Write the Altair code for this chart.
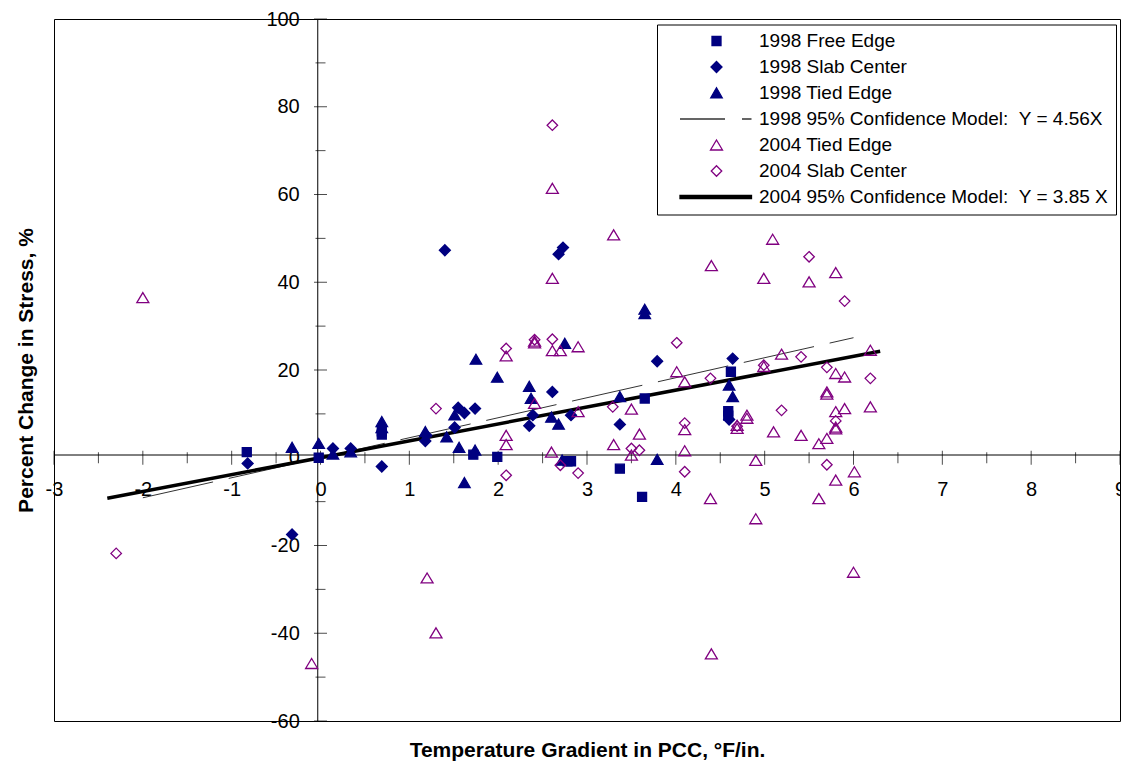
import altair as alt
import pandas as pd

FONT = "Liberation Sans, Arial, sans-serif"

series_names = [
    "1998 Free Edge",
    "1998 Slab Center",
    "1998 Tied Edge",
    "1998 95% Confidence Model:  Y = 4.56X",
    "2004 Tied Edge",
    "2004 Slab Center",
    "2004 95% Confidence Model:  Y = 3.85 X",
]

# 1998 Free Edge (filled squares)
free98_x = [-0.83, -0.02, 0.69, 0.69, 1.72, 1.99, 2.78, 2.82, 3.37, 3.62, 3.65, 4.59, 4.59, 4.62]
free98_y = [1.3, 0.0, 5.3, 6.0, 0.7, 0.2, -0.8, -0.8, -2.5, -8.9, 13.5, 10.6, 9.6, 19.6]

# 1998 Slab Center (filled diamonds)
slab98_x = [-0.82, -0.32, 0.14, 0.34, 0.69, 1.18, 1.19, 1.40, 1.51, 1.55, 1.62, 1.74, 2.35, 2.39,
            2.61, 2.68, 2.73, 2.82, 3.37, 3.79, 4.60, 4.64]
slab98_y = [-1.3, -17.5, 2.1, 2.1, -2.0, 3.8, 5.1, 47.3, 6.9, 11.4, 10.2, 11.2, 7.3, 9.7,
            15.0, 46.4, 47.9, 9.7, 7.6, 22.0, 8.7, 22.6]

# 1998 Tied Edge (filled triangles)
tied98_x = [-0.32, -0.02, 0.14, 0.34, 0.69, 0.69, 1.18, 1.42, 1.51, 1.56, 1.62, 1.74, 1.75, 1.99,
            2.35, 2.37, 2.60, 2.68, 2.72, 2.75, 3.37, 3.65, 3.65, 3.79, 4.60, 4.64]
tied98_y = [2.3, 3.2, 0.8, 1.3, 8.2, 6.8, 5.9, 4.7, 9.7, 2.3, -5.7, 1.7, 22.4, 18.3,
            16.2, 13.5, 9.2, 7.6, -0.6, 26.0, 13.9, 33.8, 32.8, -0.4, 16.5, 13.9]

# 2004 Tied Edge (hollow triangles)
tied04_x = [-2.00, -0.10, 1.20, 1.30, 2.09, 2.09, 2.09, 2.41, 2.41, 2.41, 2.61, 2.61, 2.61, 2.60,
            2.70, 2.90, 2.90, 3.30, 3.30, 3.50, 3.59, 3.50, 4.01, 4.10, 4.10, 4.10, 4.40, 4.39,
            4.40, 4.69, 4.69, 4.80, 4.80, 4.90, 4.90, 4.99, 4.99, 5.09, 5.19, 5.10, 5.41, 5.50,
            5.61, 5.61, 5.70, 5.70, 5.70, 5.80, 5.80, 5.80, 5.80, 5.80, 5.80, 5.90, 5.90, 6.01,
            6.00, 6.19, 6.19]
tied04_y = [36.5, -46.9, -27.4, -39.9, 23.2, 5.1, 3.0, 12.4, 26.2, 26.6, 24.4, 61.4, 40.9, 1.3,
            24.4, 25.3, 10.5, 50.8, 3.0, 11.1, 5.4, 0.6, 19.6, 17.3, 6.4, 1.6, 43.8, -9.3,
            -44.7, 7.4, 6.7, 9.7, 9.0, -0.6, -13.9, 20.8, 40.9, 49.8, 23.6, 5.9, 5.1, 40.1,
            3.2, -9.3, 15.0, 14.5, 4.4, 42.2, 19.2, 10.5, 7.0, 6.6, -5.1, 18.4, 11.2, -3.2,
            -26.1, 24.5, 11.6]

# 2004 Slab Center (hollow diamonds)
slab04_x = [-2.30, 1.30, 2.09, 2.09, 2.41, 2.61, 2.61, 2.70, 2.90, 3.29, 3.50, 3.59, 4.01, 4.10,
            4.10, 4.39, 4.69, 4.99, 5.19, 5.41, 5.50, 5.70, 5.70, 5.80, 5.90, 6.19]
slab04_y = [-21.8, 11.2, 24.9, -4.0, 26.9, 27.0, 75.8, -1.7, -3.5, 11.6, 2.1, 1.7, 26.2, 7.9,
            -3.2, 18.1, 7.2, 21.1, 10.8, 23.0, 45.8, 20.6, -1.6, 8.4, 35.7, 18.1]

# Confidence model lines (end points)
model98_x = [-2.0, 6.0]
model98_y = [-9.12, 27.36]
model04_x = [-2.4, 6.3]
model04_y = [-9.24, 24.26]

# Axis tick values
x_major = [-3, -2, -1, 0, 1, 2, 3, 4, 5, 6, 7, 8, 9]
x_minor = [-2.5, -1.5, -0.5, 0.5, 1.5, 2.5, 3.5, 4.5, 5.5, 6.5, 7.5, 8.5]
y_major = [-60, -40, -20, 0, 20, 40, 60, 80, 100]
y_minor = [-50, -30, -10, 10, 30, 50, 70, 90]

# ---- build tables ----
rows = []
for name, xs, ys in [
    (series_names[0], free98_x, free98_y),
    (series_names[1], slab98_x, slab98_y),
    (series_names[2], tied98_x, tied98_y),
    (series_names[4], tied04_x, tied04_y),
    (series_names[5], slab04_x, slab04_y),
]:
    for a, b in zip(xs, ys):
        rows.append({"x": a, "y": b, "series": name})
pts = pd.DataFrame(rows)

m98 = pd.DataFrame({"x": model98_x, "y": model98_y})
m04 = pd.DataFrame({"x": model04_x, "y": model04_y})

W, H = 1066, 702
XMIN, XMAX, YMIN, YMAX = -3, 9, -60, 100
x_off = -(0 - XMIN) / (XMAX - XMIN) * W
y_off = -(0 - YMIN) / (YMAX - YMIN) * H

minus_expr = "datum.value < 0 ? '-' + format(-datum.value, 'd') : format(datum.value, 'd')"

x_axis = alt.Axis(
    orient="bottom", offset=x_off, values=x_major, labelExpr=minus_expr,
    ticks=False, tickSize=0, grid=False, domainColor="black", domainWidth=1,
    labelFont=FONT, labelFontSize=20, labelColor="black", labelPadding=25,
    labelFlush=False, labelOverlap=False, labelBound=False,
    title="Temperature Gradient in PCC, °F/in.", titleFont=FONT, titleFontSize=21,
    titleFontWeight="bold", titleColor="black", titleBaseline="alphabetic",
    titleX=W / 2, titleY=302,
)
y_axis = alt.Axis(
    orient="left", offset=y_off, values=y_major, labelExpr=minus_expr,
    ticks=False, tickSize=0, grid=False, domainColor="black", domainWidth=1,
    labelFont=FONT, labelFontSize=20, labelColor="black", labelPadding=18,
    labelFlush=False, labelOverlap=False, labelBound=False,
    title="Percent Change in Stress, %", titleFont=FONT, titleFontSize=21,
    titleFontWeight="bold", titleColor="black", titleBaseline="alphabetic",
    titleAngle=270, titleX=-285, titleY=H / 2,
)

xsc = alt.Scale(domain=[XMIN, XMAX], nice=False, zero=False)
ysc = alt.Scale(domain=[YMIN, YMAX], nice=False, zero=False)


def X(f):
    return alt.X(f, type="quantitative", scale=xsc, axis=x_axis)


def Y(f):
    return alt.Y(f, type="quantitative", scale=ysc, axis=y_axis)


SQUARE = "M-0.9,-0.9H0.9V0.9H-0.9Z"
DIAMOND_F = "M0,-1.1L1.1,0L0,1.1L-1.1,0Z"
TRI_F = "M0,-1.05L1.15,0.95L-1.15,0.95Z"
LINE_DASH = "M-7.3,0H1.7M5.1,0H7"
TRI_H = "M0,-1.0L1.2,1.0L-1.2,1.0Z"
DIAMOND_H = "M0,-1.05L1.05,0L0,1.05L-1.05,0Z"
LINE_THICK = "M-7.3,-0.3H7V0.3H-7.3Z"

NAVY, PURPLE = "#000080", "#800080"

legend = alt.Legend(
    title=None, orient="none", legendX=603, legendY=5.5, padding=7, rowPadding=6.0,
    strokeColor="black", fillColor="white", labelFont=FONT, labelFontSize=19,
    labelColor="black", symbolOffset=43, labelOffset=33, symbolStrokeWidth=1.3,
    symbolSize=100, labelLimit=1000,
    labelExpr="replace(datum.label, '  ', ' \u00a0') + '\u00a0\u00a0'",
)

points = alt.Chart(pts).mark_point(size=100, strokeWidth=1.3, opacity=1).encode(
    x=X("x"), y=Y("y"),
    shape=alt.Shape("series:N", scale=alt.Scale(domain=series_names,
                    range=[SQUARE, DIAMOND_F, TRI_F, LINE_DASH, TRI_H, DIAMOND_H, LINE_THICK]),
                    legend=legend),
    fill=alt.Fill("series:N", scale=alt.Scale(domain=series_names,
                  range=[NAVY, NAVY, NAVY, "transparent", "transparent", "transparent", "#000000"]),
                  legend=legend),
    stroke=alt.Stroke("series:N", scale=alt.Scale(domain=series_names,
                      range=[NAVY, NAVY, NAVY, "#333333", PURPLE, PURPLE, "#000000"]),
                      legend=legend),
)

line98 = alt.Chart(m98).mark_line(color="#333333", strokeWidth=1, strokeDash=[72, 16]).encode(
    x=X("x"), y=Y("y"))
line04 = alt.Chart(m04).mark_line(color="black", strokeWidth=3.5).encode(
    x=X("x"), y=Y("y"))

xt = pd.DataFrame({"v": x_major + x_minor, "k": ["major"] * len(x_major) + ["minor"] * len(x_minor)})
yt = pd.DataFrame({"v": y_major + y_minor, "k": ["major"] * len(y_major) + ["minor"] * len(y_minor)})

xticks_major = alt.Chart(xt[xt.k == "major"]).mark_tick(orient="vertical", size=14, thickness=1, color="black").encode(
    x=X("v"), y=alt.datum(0, type="quantitative"))
xticks_minor = alt.Chart(xt[xt.k == "minor"]).mark_tick(orient="vertical", size=11, thickness=1, color="black").encode(
    x=X("v"), y=alt.datum(0, type="quantitative"))
yticks_major = alt.Chart(yt[yt.k == "major"]).mark_tick(orient="horizontal", size=13, thickness=1, color="black").encode(
    y=Y("v"), x=alt.datum(0, type="quantitative"))
yticks_minor = alt.Chart(yt[yt.k == "minor"]).mark_tick(orient="horizontal", size=10, thickness=1, color="black").encode(
    y=Y("v"), x=alt.datum(0, type="quantitative"))

chart = alt.layer(
    xticks_major, xticks_minor, yticks_major, yticks_minor, line98, line04, points
).properties(
    width=W, height=H,
    autosize=alt.AutoSizeParams(type="none"),
    padding={"left": 46, "top": 11, "right": 1, "bottom": 43},
    background="white",
).configure_view(stroke="black", strokeWidth=1)

chart.save("out.html", embed_options={"renderer": "svg", "actions": False})
